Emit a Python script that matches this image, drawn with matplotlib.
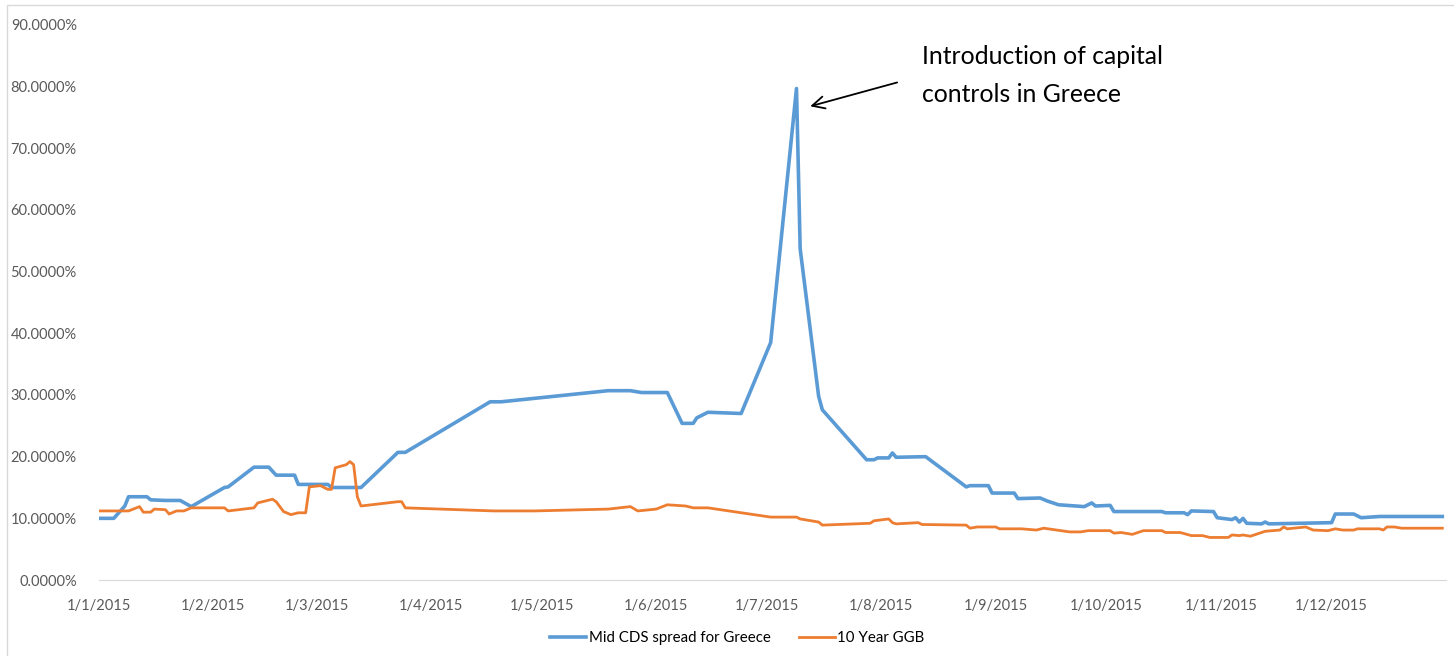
import pandas as pd
import matplotlib
matplotlib.use("Agg")
import matplotlib.pyplot as plt
from matplotlib.ticker import FuncFormatter
from matplotlib.patches import Rectangle

plt.rcParams['font.family'] = ['Lato', 'DejaVu Sans']

cds_dates = ["2015-01-01", "2015-01-05", "2015-01-08", "2015-01-09", "2015-01-14", "2015-01-15",
             "2015-01-19", "2015-01-23", "2015-01-26", "2015-02-04", "2015-02-05", "2015-02-12",
             "2015-02-16", "2015-02-18", "2015-02-23", "2015-02-24", "2015-03-04", "2015-03-05",
             "2015-03-13", "2015-03-23", "2015-03-25", "2015-04-17", "2015-04-20", "2015-05-19",
             "2015-05-25", "2015-05-28", "2015-06-04", "2015-06-08", "2015-06-11", "2015-06-12",
             "2015-06-15", "2015-06-24", "2015-07-02", "2015-07-09", "2015-07-10", "2015-07-15",
             "2015-07-16", "2015-07-28", "2015-07-30", "2015-07-31", "2015-08-03", "2015-08-04",
             "2015-08-05", "2015-08-13", "2015-08-24", "2015-08-25", "2015-08-30", "2015-08-31",
             "2015-09-06", "2015-09-07", "2015-09-13", "2015-09-15", "2015-09-18", "2015-09-25",
             "2015-09-27", "2015-09-28", "2015-10-02", "2015-10-03", "2015-10-16", "2015-10-17",
             "2015-10-22", "2015-10-23", "2015-10-24", "2015-10-30", "2015-10-31", "2015-11-04",
             "2015-11-05", "2015-11-06", "2015-11-07", "2015-11-08", "2015-11-12", "2015-11-13",
             "2015-11-14", "2015-12-01", "2015-12-02", "2015-12-07", "2015-12-09", "2015-12-14",
             "2015-12-31"]
cds_values = [10.0, 10.0, 12.0, 13.5, 13.5, 13.0,
              12.9, 12.9, 11.9, 15.0, 15.1, 18.3,
              18.3, 17.0, 17.0, 15.5, 15.5, 15.0,
              15.0, 20.7, 20.7, 28.9, 28.9, 30.7,
              30.7, 30.4, 30.4, 25.4, 25.4, 26.3,
              27.2, 27.0, 38.5, 79.7, 53.7, 29.8,
              27.6, 19.5, 19.5, 19.8, 19.8, 20.6,
              19.9, 20.0, 15.1, 15.3, 15.3, 14.1,
              14.1, 13.2, 13.3, 12.8, 12.2, 11.9,
              12.5, 12.0, 12.1, 11.1, 11.1, 10.9,
              10.9, 10.6, 11.2, 11.1, 10.1, 9.8,
              10.1, 9.4, 10.0, 9.2, 9.1, 9.4,
              9.1, 9.3, 10.7, 10.7, 10.1, 10.3,
              10.3]

ggb_dates = ["2015-01-01", "2015-01-09", "2015-01-12", "2015-01-13", "2015-01-15", "2015-01-16",
             "2015-01-19", "2015-01-20", "2015-01-22", "2015-01-24", "2015-01-26", "2015-02-04",
             "2015-02-05", "2015-02-12", "2015-02-13", "2015-02-17", "2015-02-18", "2015-02-20",
             "2015-02-22", "2015-02-24", "2015-02-26", "2015-02-27", "2015-03-02", "2015-03-04",
             "2015-03-05", "2015-03-06", "2015-03-09", "2015-03-10", "2015-03-11", "2015-03-12",
             "2015-03-13", "2015-03-23", "2015-03-24", "2015-03-25", "2015-04-18", "2015-04-29",
             "2015-05-19", "2015-05-25", "2015-05-27", "2015-06-01", "2015-06-04", "2015-06-09",
             "2015-06-11", "2015-06-15", "2015-07-02", "2015-07-09", "2015-07-10", "2015-07-15",
             "2015-07-16", "2015-07-29", "2015-07-30", "2015-08-03", "2015-08-04", "2015-08-05",
             "2015-08-11", "2015-08-12", "2015-08-24", "2015-08-25", "2015-08-27", "2015-09-01",
             "2015-09-02", "2015-09-08", "2015-09-12", "2015-09-14", "2015-09-21", "2015-09-24",
             "2015-09-26", "2015-10-02", "2015-10-03", "2015-10-05", "2015-10-08", "2015-10-11",
             "2015-10-16", "2015-10-17", "2015-10-21", "2015-10-24", "2015-10-27", "2015-10-29",
             "2015-11-03", "2015-11-04", "2015-11-06", "2015-11-07", "2015-11-09", "2015-11-13",
             "2015-11-17", "2015-11-18", "2015-11-19", "2015-11-24", "2015-11-26", "2015-11-30",
             "2015-12-02", "2015-12-04", "2015-12-07", "2015-12-08", "2015-12-14", "2015-12-15",
             "2015-12-16", "2015-12-18", "2015-12-20", "2015-12-31"]
ggb_values = [11.2, 11.2, 11.9, 11.0, 11.0, 11.5,
              11.4, 10.7, 11.2, 11.2, 11.7, 11.7,
              11.2, 11.7, 12.5, 13.1, 12.7, 11.1,
              10.6, 10.9, 10.9, 15.1, 15.3, 14.7,
              14.7, 18.2, 18.7, 19.2, 18.7, 13.5,
              12.0, 12.7, 12.7, 11.7, 11.2, 11.2,
              11.5, 11.9, 11.2, 11.5, 12.2, 12.0,
              11.7, 11.7, 10.2, 10.2, 9.9, 9.4,
              8.9, 9.2, 9.6, 9.9, 9.3, 9.1,
              9.3, 9.0, 8.9, 8.4, 8.6, 8.6,
              8.3, 8.3, 8.1, 8.4, 7.8, 7.8,
              8.0, 8.0, 7.6, 7.7, 7.4, 8.0,
              8.0, 7.7, 7.7, 7.2, 7.2, 6.9,
              6.9, 7.3, 7.2, 7.3, 7.1, 7.9,
              8.1, 8.6, 8.3, 8.6, 8.1, 8.0,
              8.3, 8.1, 8.1, 8.3, 8.3, 8.1,
              8.6, 8.6, 8.4, 8.4]

series_names = ["Mid CDS spread for Greece", "10 Year GGB"]
month_ticks = pd.date_range("2015-01-01", "2015-12-01", freq="MS")
note = "Introduction of capital\ncontrols in Greece"

fig = plt.figure(figsize=(14.54, 6.56), dpi=100)
ax = fig.add_axes([99 / 1454, 76 / 656, 1347 / 1454, 555 / 656])

ax.plot(pd.to_datetime(cds_dates), [v / 100 for v in cds_values], color="#5B9BD5", lw=2.6,
        label=series_names[0], solid_joinstyle="round")
ax.plot(pd.to_datetime(ggb_dates), [v / 100 for v in ggb_values], color="#ED7D31", lw=2.0,
        label=series_names[1], solid_joinstyle="round")

ax.set_xlim(pd.Timestamp("2015-01-01"), pd.Timestamp("2016-01-01"))
ax.set_ylim(0, 0.9)
ax.set_yticks([i / 10 for i in range(10)])
ax.yaxis.set_major_formatter(FuncFormatter(lambda v, p: f"{v * 100:.4f}%"))
ax.set_xticks(month_ticks)
ax.set_xticklabels([f"{d.day}/{d.month}/{d.year}" for d in month_ticks])

for s in ["top", "right", "left"]:
    ax.spines[s].set_visible(False)
ax.spines["bottom"].set_color("#D9D9D9")
ax.tick_params(length=0, labelsize=10.5, labelcolor="#595959")
ax.tick_params(axis="y", pad=16)
ax.tick_params(axis="x", pad=14)

ax.annotate("", xy=(pd.Timestamp("2015-07-12"), 0.767), xytext=(pd.Timestamp("2015-08-06"), 0.808),
            arrowprops=dict(arrowstyle="->", color="black", lw=1.3, mutation_scale=22))
ax.text(pd.Timestamp("2015-08-12"), 0.818, note, fontsize=17.8, color="black",
        va="center", ha="left", linespacing=1.83)

fig.legend(*ax.get_legend_handles_labels(), loc="center", bbox_to_anchor=(737.5 / 1454, 18 / 656),
           ncol=2, frameon=False, fontsize=10.8, handlelength=2.4, columnspacing=1.9,
           handletextpad=0.15)

fig.patches.append(Rectangle((7 / 1454, -0.01), 1.1, 651 / 656 + 0.01, transform=fig.transFigure,
                             fill=False, edgecolor="#D9D9D9", lw=1))

fig.savefig("out.png", dpi=100)
